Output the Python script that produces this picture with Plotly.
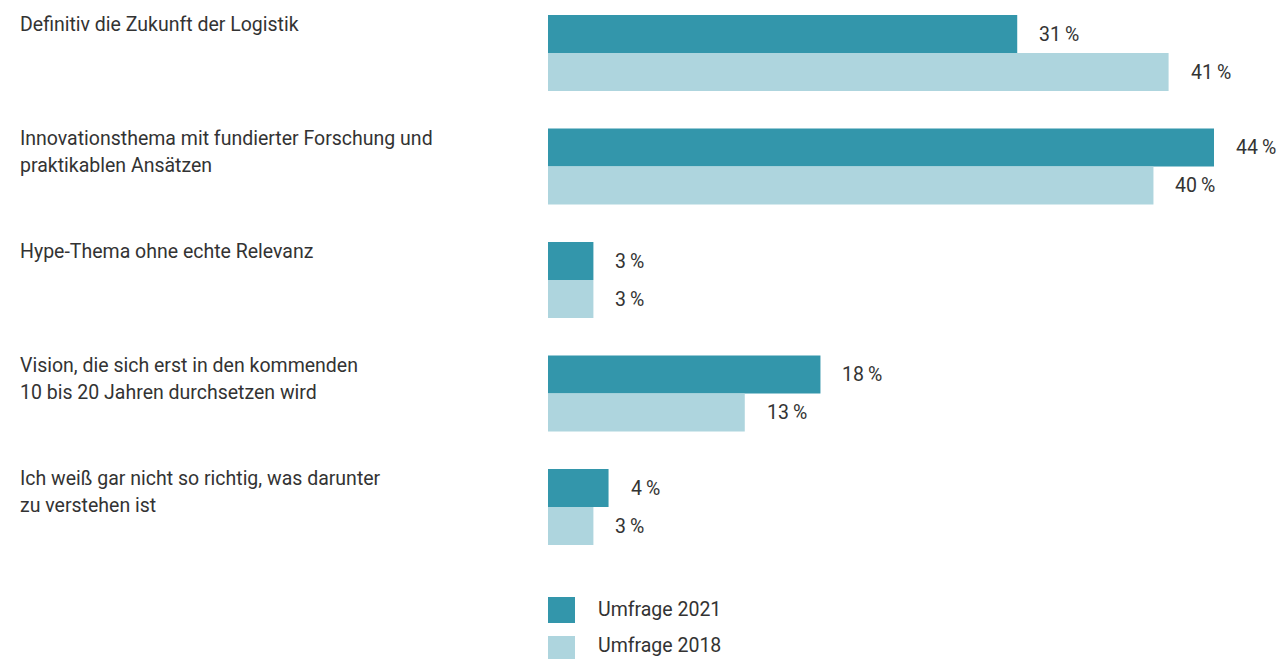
import plotly.graph_objects as go

categories = [
    "Definitiv die Zukunft der Logistik",
    "Innovationsthema mit fundierter Forschung und<br>praktikablen Ansätzen",
    "Hype-Thema ohne echte Relevanz",
    "Vision, die sich erst in den kommenden<br>10 bis 20 Jahren durchsetzen wird",
    "Ich weiß gar nicht so richtig, was darunter<br>zu verstehen ist",
]
values_2021 = [31, 44, 3, 18, 4]
values_2018 = [41, 40, 3, 13, 3]
series_names = ["Umfrage 2021", "Umfrage 2018"]

C2021 = "#3396ab"
C2018 = "#aed5de"
TXT = "#333333"
FONT = "Roboto"
FS = 19.5

W, H = 1281, 659
x0px = 548
px_per_pct = (1214 - 548) / 44.0
pitch = 113.5

ypos = list(range(len(categories)))

fig = go.Figure()
fig.add_trace(go.Bar(y=ypos, x=values_2021, orientation="h", name=series_names[0],
                     marker=dict(color=C2021, line=dict(width=0)), showlegend=False))
fig.add_trace(go.Bar(y=ypos, x=values_2018, orientation="h", name=series_names[1],
                     marker=dict(color=C2018, line=dict(width=0)), showlegend=False))

annotations = []
half = 38 / pitch
for i, cat in enumerate(categories):
    for k, line in enumerate(cat.split("<br>")):
        annotations.append(dict(x=18 / W, xref="paper", y=i - half, yref="y", text=line,
                                xanchor="left", yanchor="top", align="left", showarrow=False,
                                font=dict(family=FONT, size=FS, color=TXT),
                                yshift=4 - 27 * k))
    annotations.append(dict(x=values_2021[i], xref="x", y=i - half / 2, yref="y",
                            text=f"{values_2021[i]}\u2009%", xanchor="left", yanchor="middle",
                            showarrow=False, xshift=20, yshift=0,
                            font=dict(family=FONT, size=FS, color=TXT)))
    annotations.append(dict(x=values_2018[i], xref="x", y=i + half / 2, yref="y",
                            text=f"{values_2018[i]}\u2009%", xanchor="left", yanchor="middle",
                            showarrow=False, xshift=20, yshift=0,
                            font=dict(family=FONT, size=FS, color=TXT)))

# legend (custom)
shapes = []
leg = [(C2021, series_names[0], 597, 623, 609), (C2018, series_names[1], 636, 662, 645)]
for col, name, ya, yb, yc in leg:
    shapes.append(dict(type="rect", xref="paper", yref="paper",
                       x0=548 / W, x1=575 / W, y0=1 - yb / H, y1=1 - ya / H,
                       fillcolor=col, line=dict(width=0)))
    annotations.append(dict(x=596 / W, xref="paper", y=1 - yc / H, yref="paper",
                            text=name, xanchor="left", yanchor="middle", showarrow=False,
                            font=dict(family=FONT, size=FS, color=TXT)))

top_v = -53 / pitch
fig.update_layout(
    width=W, height=H,
    margin=dict(l=0, r=0, t=0, b=0),
    paper_bgcolor="white", plot_bgcolor="white",
    barmode="group", bargap=1 - 76 / pitch, bargroupgap=0,
    xaxis=dict(domain=[x0px / W, 1], range=[0, (W - x0px) / px_per_pct],
               visible=False, showgrid=False, zeroline=False),
    yaxis=dict(range=[top_v + H / pitch, top_v], visible=False, showgrid=False,
               zeroline=False),
    annotations=annotations, shapes=shapes,
    font=dict(family=FONT, size=FS, color=TXT),
)

fig.write_html("out.html", config={"displayModeBar": False})
